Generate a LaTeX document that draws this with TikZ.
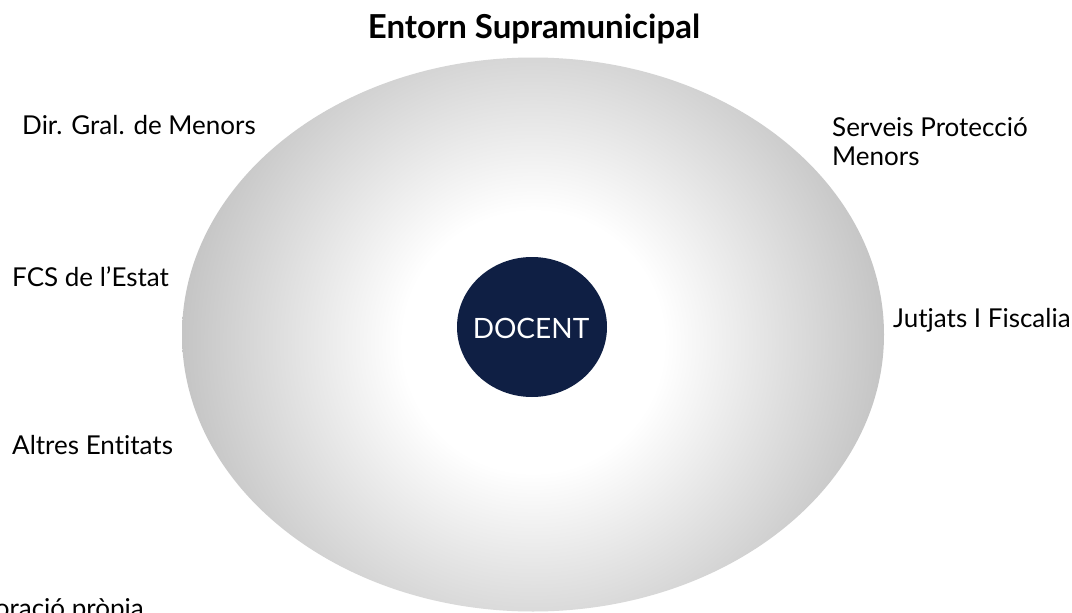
\documentclass[tikz,border=0pt]{standalone}
\usepackage{fontspec}
\setmainfont{Lato}[Ligatures={NoCommon}]
\definecolor{navy}{HTML}{0F1F44}
\pgfdeclareradialshading{ellshade}{\pgfpoint{0bp}{0bp}}{color(0bp)=(white); color(9bp)=(white); color(25bp)=(black!24); color(50bp)=(black!24)}
\tikzset{
  lbl/.style={anchor=base west, inner sep=0pt, font=\fontsize{26}{29}\selectfont, align=left, text=black},
  titlelbl/.style={anchor=base, inner sep=0pt, font=\fontsize{33}{36}\selectfont\bfseries},
  coretext/.style={inner sep=0pt, text=white, font=\fontsize{28}{30}\selectfont}
}
\begin{document}
\begin{tikzpicture}[x=1pt,y=-1pt]
\useasboundingbox (0,0) rectangle (1072,613);
\clip (0,0) rectangle (1072,613);
\fill[white] (0,0) rectangle (1072,613);
\begin{scope}
  \clip (533,334.5) ellipse [x radius=351pt, y radius=277pt];
  \shade[shading=ellshade] (533,342) circle [radius=362pt];
\end{scope}
\fill[navy] (532,327) ellipse [x radius=75pt, y radius=70pt];
\node[coretext] (docent) at (531,328) {DOCENT};
\node[titlelbl] (title) at (534,38) {Entorn Supramunicipal};
\node[lbl] (dgm) at (22,134) {Dir. Gral. de Menors};
\node[lbl] (spm) at (832,165) {Serveis Protecció\\Menors};
\node[lbl] (fcs) at (12,286) {FCS de l’Estat};
\node[lbl] (jf) at (893,327) {Jutjats I Fiscalia};
\node[lbl] (ae) at (12,454) {Altres Entitats};
\node[anchor=base east, inner sep=0pt, font=\fontsize{26}{28}\selectfont] (font) at (144,617) {Elaboració pròpia};
\end{tikzpicture}
\end{document}
